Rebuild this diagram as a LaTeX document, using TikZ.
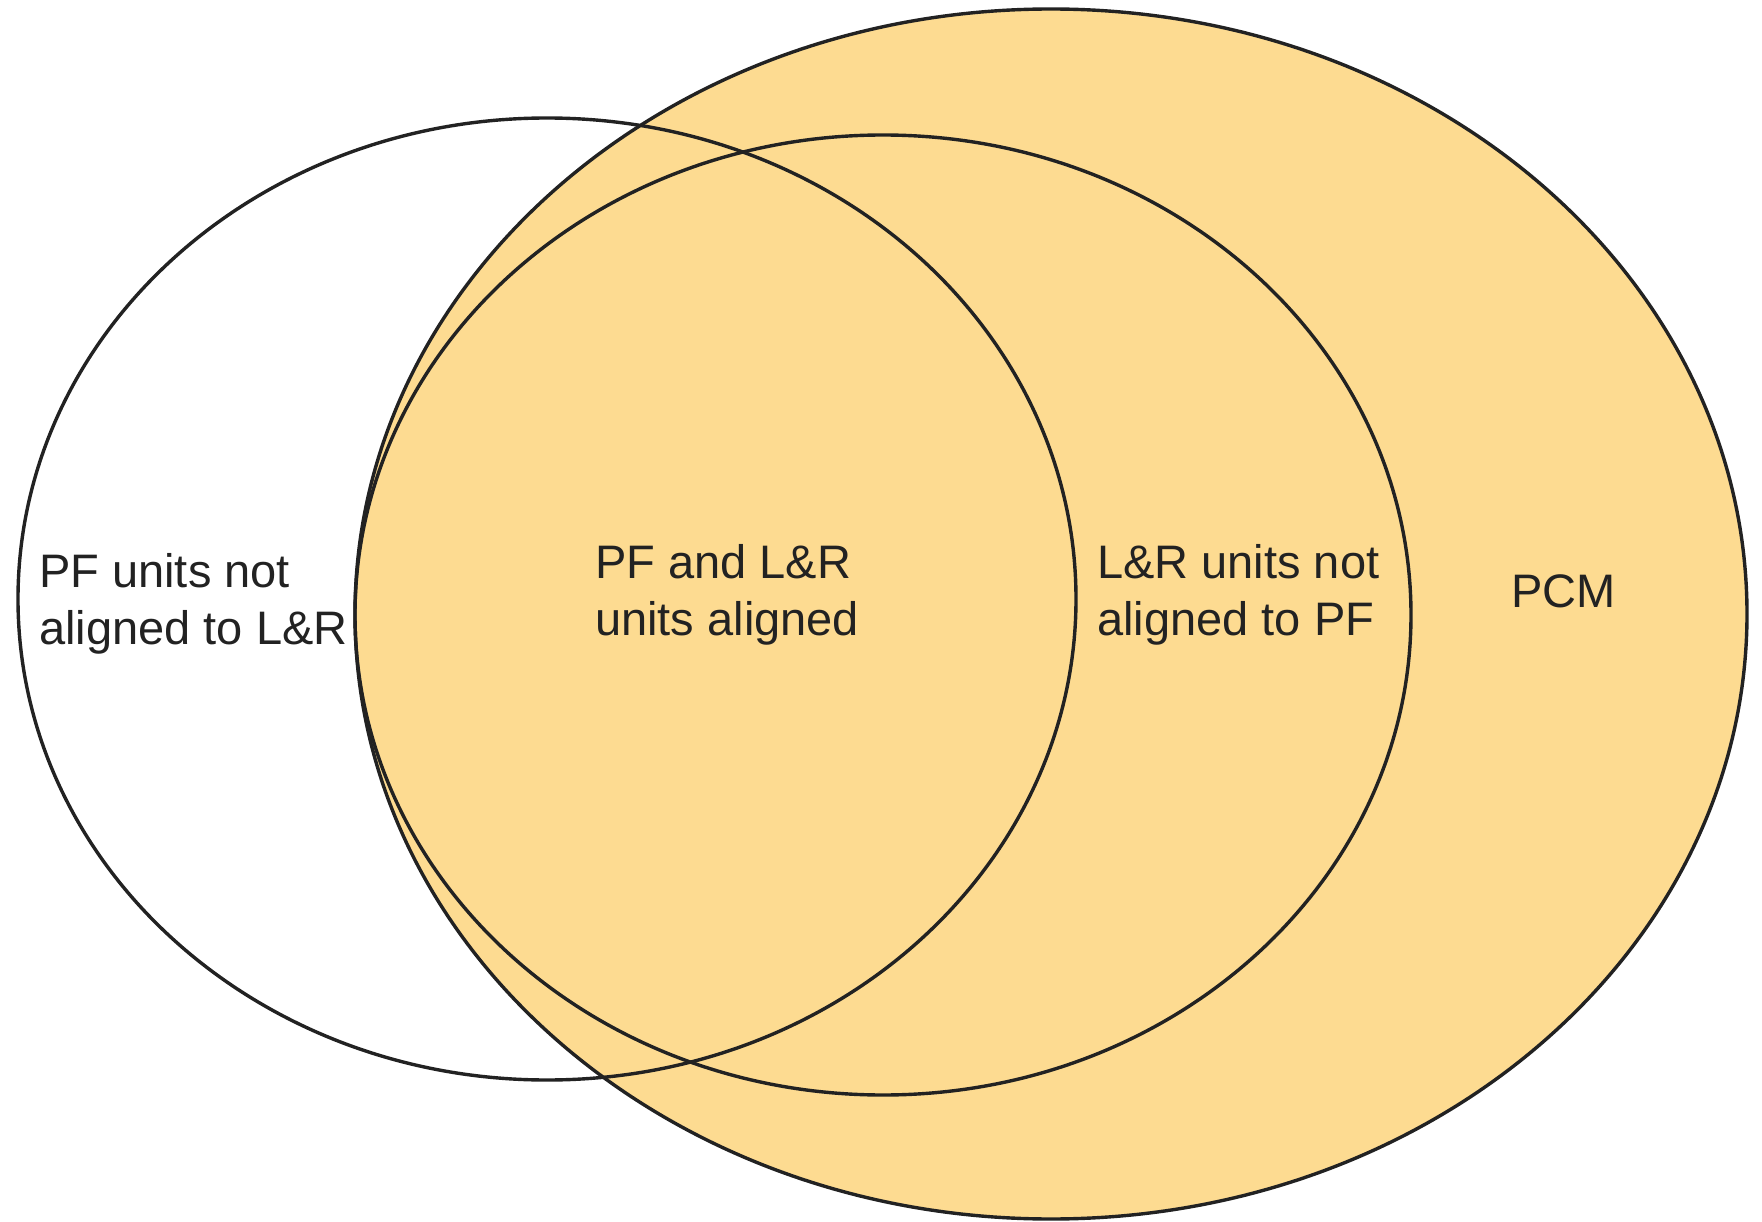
\documentclass[tikz,border=0pt]{standalone}
\usepackage{fontspec}
\setmainfont{Liberation Sans}
\definecolor{pcmfill}{HTML}{FDDB91}
\definecolor{ink}{HTML}{222222}
\begin{document}
\begin{tikzpicture}[x=1pt,y=-1pt,
  setline/.style={draw=ink,line width=3.4pt},
  lbl/.style={anchor=base west,inner sep=0pt,align=left,text=ink,font=\fontsize{47}{57}\selectfont}]
\useasboundingbox (0,0) rectangle (1762,1222);
\coordinate (pcmc) at (1051,614);
\coordinate (pfc) at (547,599);
\coordinate (lrc) at (883,615);
\fill[pcmfill] (pcmc) ellipse [x radius=696, y radius=605];
\draw[setline] (pcmc) ellipse [x radius=696, y radius=605];
\draw[setline] (pfc) ellipse [x radius=529, y radius=481];
\draw[setline] (lrc) ellipse [x radius=528, y radius=480];
\node[lbl] (pfonly) at (39,644) {PF units not\\aligned to L\&R};
\node[lbl] (both) at (595,635) {PF and L\&R\\units aligned};
\node[lbl] (lronly) at (1097,635) {L\&R units not\\aligned to PF};
\node[lbl] (pcm) at (1511,607) {PCM};
\end{tikzpicture}
\end{document}
